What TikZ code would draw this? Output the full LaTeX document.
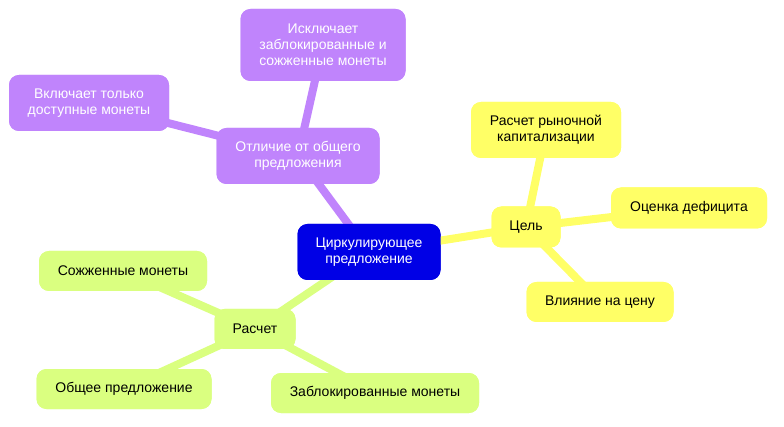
\documentclass[tikz,border=0pt]{standalone}
\usepackage{fontspec}
\setmainfont{Liberation Sans}
\definecolor{cblue}{HTML}{0000E6}
\definecolor{cpurp}{HTML}{C084FC}
\definecolor{cyel}{HTML}{FFFF66}
\definecolor{cgreen}{HTML}{DAFF80}
\begin{document}
\begin{tikzpicture}[x=1pt,y=-1pt,
  box/.style={rounded corners=10pt,inner sep=0pt,align=center,font=\fontsize{14}{16}\selectfont},
  pbox/.style={box,fill=cpurp,text=white},
  ybox/.style={box,fill=cyel,text=black},
  gbox/.style={box,fill=cgreen,text=black},
  link/.style={line width=8pt}]
\useasboundingbox (0,0) rectangle (784,427);
\node[box,fill=cblue,text=white,minimum width=143pt,minimum height=56pt] (c) at (369,252) {Циркулирующее\\предложение};
\node[pbox,minimum width=163pt,minimum height=56pt] (o) at (298,156) {Отличие от общего\\предложения};
\node[pbox,minimum width=165pt,minimum height=72pt] (o1) at (323,45) {Исключает\\заблокированные и\\сожженные монеты};
\node[pbox,minimum width=160pt,minimum height=56pt] (o2) at (89,103) {Включает только\\доступные монеты};
\node[ybox,minimum width=69pt,minimum height=41pt] (g) at (526,227) {Цель};
\node[ybox,minimum width=150pt,minimum height=56pt] (g1) at (546,130) {Расчет рыночной\\капитализации};
\node[ybox,minimum width=156pt,minimum height=41pt] (g2) at (689,208) {Оценка дефицита};
\node[ybox,minimum width=147pt,minimum height=40pt] (g3) at (600,302) {Влияние на цену};
\node[gbox,minimum width=81pt,minimum height=40pt] (r) at (255,329) {Расчет};
\node[gbox,minimum width=168pt,minimum height=40pt] (r1) at (123,271) {Сожженные монеты};
\node[gbox,minimum width=175pt,minimum height=40pt] (r2) at (124,389) {Общее предложение};
\node[gbox,minimum width=208pt,minimum height=40pt] (r3) at (375,393) {Заблокированные монеты};
\begin{scope}[on background layer/.style={}]
\end{scope}
\pgfsetlayers{main}
\begin{pgfonlayer}{main}\end{pgfonlayer}
\draw[link,cpurp] (c.center) -- (o.center) (o.center) -- (o1.center) (o.center) -- (o2.center);
\draw[link,cyel] (c.center) -- (g.center) (g.center) -- (g1.center) (g.center) -- (g2.center) (g.center) -- (g3.center);
\draw[link,cgreen] (c.center) -- (r.center) (r.center) -- (r1.center) (r.center) -- (r2.center) (r.center) -- (r3.center);
\node[box,fill=cblue,text=white,minimum width=143pt,minimum height=56pt] at (369,252) {Циркулирующее\\предложение};
\node[pbox,minimum width=163pt,minimum height=56pt] at (298,156) {Отличие от общего\\предложения};
\node[pbox,minimum width=165pt,minimum height=72pt] at (323,45) {Исключает\\заблокированные и\\сожженные монеты};
\node[pbox,minimum width=160pt,minimum height=56pt] at (89,103) {Включает только\\доступные монеты};
\node[ybox,minimum width=69pt,minimum height=41pt] at (526,227) {Цель};
\node[ybox,minimum width=150pt,minimum height=56pt] at (546,130) {Расчет рыночной\\капитализации};
\node[ybox,minimum width=156pt,minimum height=41pt] at (689,208) {Оценка дефицита};
\node[ybox,minimum width=147pt,minimum height=40pt] at (600,302) {Влияние на цену};
\node[gbox,minimum width=81pt,minimum height=40pt] at (255,329) {Расчет};
\node[gbox,minimum width=168pt,minimum height=40pt] at (123,271) {Сожженные монеты};
\node[gbox,minimum width=175pt,minimum height=40pt] at (124,389) {Общее предложение};
\node[gbox,minimum width=208pt,minimum height=40pt] at (375,393) {Заблокированные монеты};
\end{tikzpicture}
\end{document}
